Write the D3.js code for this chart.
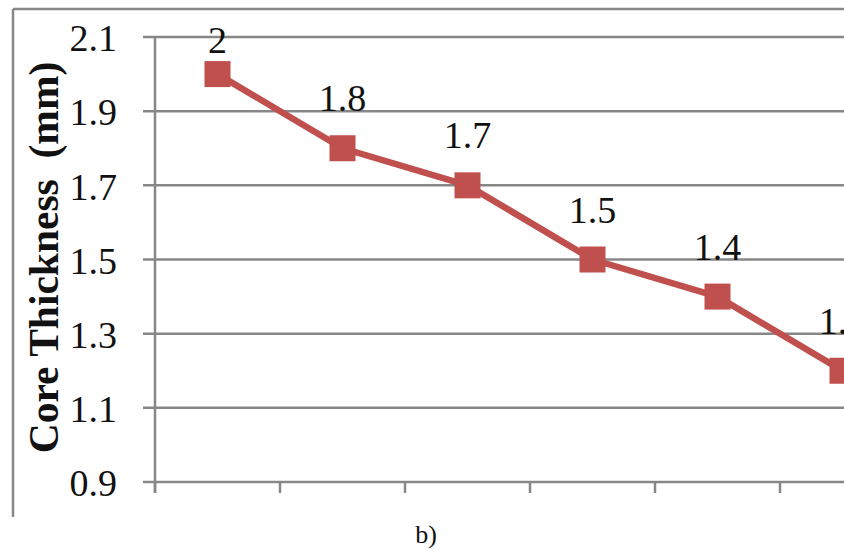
<!DOCTYPE html>
<html><head><meta charset="utf-8">
<script src="https://cdn.jsdelivr.net/npm/d3@7"></script>
<style>html,body{margin:0;padding:0;background:#fff;overflow:hidden}</style>
</head><body>
<svg id="c" width="844" height="550"></svg>
<script>
const categories = ["1", "2", "3", "4", "5", "6"];
const values = [2.0, 1.8, 1.7, 1.5, 1.4, 1.2];
const valueLabels = ["2", "1.8", "1.7", "1.5", "1.4", "1.2"];
const yTicks = [0.9, 1.1, 1.3, 1.5, 1.7, 1.9, 2.1];
const yTickLabels = ["0.9", "1.1", "1.3", "1.5", "1.7", "1.9", "2.1"];
const yTitle = "Core Thickness  (mm)";
const caption = "b)";

(function () {
const svg = d3.select("#c");
const gridColor = "#878787";
const red = "#C0504D";
const serif = "'Liberation Serif','Times New Roman',serif";

const pLeft = 155, pRight = 905, pTop = 37, pBottom = 482;
const x = d3.scaleBand().domain(categories).range([pLeft, pRight]);
const y = d3.scaleLinear().domain([0.9, 2.1]).range([pBottom, pTop]);

// outer frame (top and left edge)
svg.append("line").attr("x1", 13).attr("x2", 844).attr("y1", 9).attr("y2", 9)
  .attr("stroke", gridColor).attr("stroke-width", 2.5);
svg.append("line").attr("x1", 13).attr("x2", 13).attr("y1", 9).attr("y2", 517)
  .attr("stroke", gridColor).attr("stroke-width", 2.5);

// gridlines
svg.append("g").selectAll("line").data(yTicks).join("line")
  .attr("x1", pLeft - 12).attr("x2", pRight)
  .attr("y1", d => y(d)).attr("y2", d => y(d))
  .attr("stroke", gridColor).attr("stroke-width", 2.5);

// y axis labels via d3 axis
const yAxis = d3.axisLeft(y).tickValues(yTicks)
  .tickFormat((d, i) => yTickLabels[i]).tickSize(0).tickPadding(0);
const gy = svg.append("g").attr("transform", "translate(117,0)").call(yAxis);
gy.select(".domain").remove();
gy.selectAll("text").attr("font-family", serif).attr("font-size", 38)
  .attr("fill", "#111").attr("dy", "0.36em");

// y axis vertical line
svg.append("line").attr("x1", pLeft).attr("x2", pLeft).attr("y1", pTop).attr("y2", pBottom + 11)
  .attr("stroke", gridColor).attr("stroke-width", 2.5);

// category boundary ticks
const boundaries = categories.map(c => x(c)).concat([x.range()[1]]);
svg.append("g").selectAll("line").data(boundaries).join("line")
  .attr("x1", d => d).attr("x2", d => d).attr("y1", pBottom).attr("y2", pBottom + 11)
  .attr("stroke", gridColor).attr("stroke-width", 2.5);

// line
const cx = c => x(c) + x.bandwidth() / 2;
svg.append("path")
  .datum(values)
  .attr("d", d3.line().x((d, i) => cx(categories[i])).y(d => y(d)))
  .attr("fill", "none").attr("stroke", red).attr("stroke-width", 6.5)
  .attr("stroke-linejoin", "round");

// markers
const ms = 26;
svg.append("g").selectAll("rect").data(values).join("rect")
  .attr("x", (d, i) => cx(categories[i]) - ms / 2)
  .attr("y", d => y(d) - ms / 2)
  .attr("width", ms).attr("height", ms)
  .attr("fill", red);

// data labels
svg.append("g").selectAll("text").data(values).join("text")
  .attr("x", (d, i) => cx(categories[i]))
  .attr("y", d => Math.max(y(d) - 37, 53))
  .attr("text-anchor", "middle")
  .attr("font-family", serif).attr("font-size", 38).attr("fill", "#111")
  .text((d, i) => valueLabels[i]);

// y title
svg.append("text")
  .attr("transform", `translate(58,${(pTop + pBottom) / 2 - 2}) rotate(-90)`)
  .attr("text-anchor", "middle")
  .style("white-space", "pre")
  .attr("font-family", serif).attr("font-weight", "bold").attr("font-size", 41.5)
  .attr("fill", "#111")
  .text(yTitle);

// caption
svg.append("text").attr("x", 426).attr("y", 543).attr("text-anchor", "middle")
  .attr("font-family", serif).attr("font-size", 26).attr("fill", "#111")
  .text(caption);
})();
</script>
</body></html>
